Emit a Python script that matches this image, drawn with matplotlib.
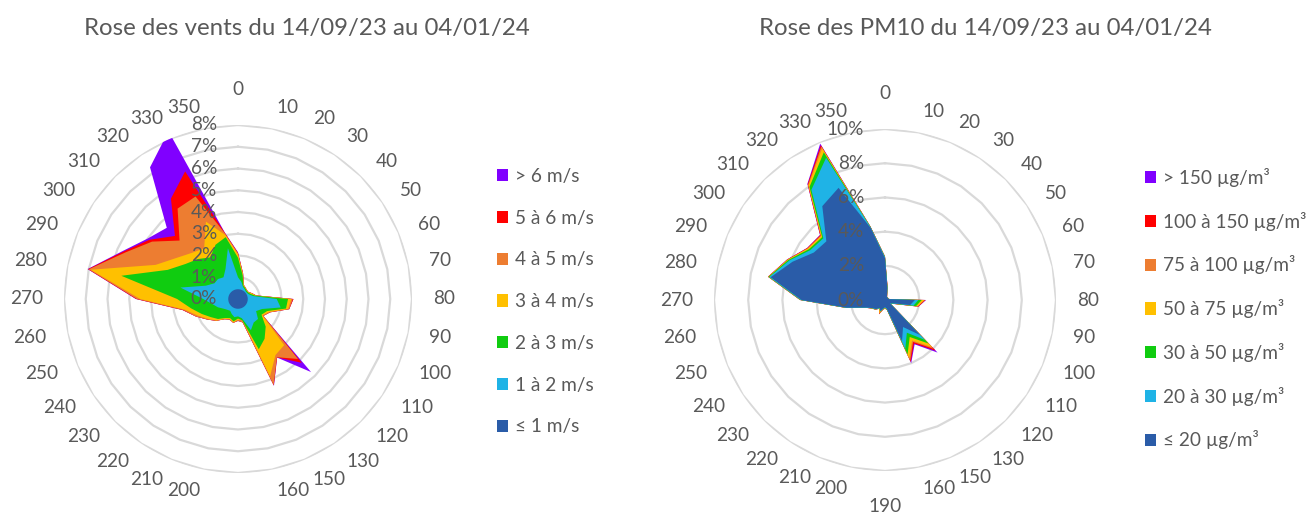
import numpy as np
import matplotlib
matplotlib.use("Agg")
import matplotlib.pyplot as plt
from matplotlib.patches import Patch

plt.rcParams["font.family"] = ["Lato", "DejaVu Sans"]
TXT = "#595959"
GRID = "#d9d9d9"

# wind / PM10 directions (only the sectors present in the data)
directions = [0, 10, 20, 30, 40, 50, 60, 70, 80, 90, 100, 110, 120, 130, 150, 160,
              190, 200, 210, 220, 230, 240, 250, 260, 270, 280, 290, 300, 310, 320, 330, 350]

# wind rose, cumulative % by speed class (innermost first)
wind_le1 = [0.45] * 32
wind_1_2 = [1.0, 0.8, 0.6, 0.55, 0.5, 0.5, 0.55, 0.7, 1.78, 2.0, 1.2, 1.0, 1.3, 1.3, 1.55, 0.9,
            0.8, 0.85, 0.75, 0.65, 0.7, 0.8, 1.0, 1.2, 1.6, 2.7, 1.6, 1.3, 1.3, 1.2, 1.5, 2.38]
wind_2_3 = [1.9, 1.1, 0.65, 0.6, 0.55, 0.55, 0.62, 0.8, 2.3, 2.25, 1.45, 1.3, 1.8, 2.2, 2.5, 1.0,
            0.9, 1.05, 0.95, 1.05, 1.3, 1.5, 1.8, 2.2, 2.8, 5.47, 3.5, 2.9, 2.6, 2.3, 2.7, 2.9]
wind_3_4 = [2.05, 1.15, 0.68, 0.62, 0.57, 0.57, 0.68, 0.83, 2.45, 2.35, 1.55, 1.35, 3.0, 3.1, 3.85, 0.98,
            0.95, 1.1, 1.0, 1.1, 1.4, 1.65, 2.0, 2.5, 4.5, 6.9, 4.1, 3.4, 3.0, 2.8, 3.85, 3.0]
wind_4_5 = [2.1, 1.2, 0.7, 0.63, 0.58, 0.58, 0.7, 0.85, 2.52, 2.4, 1.6, 1.4, 3.9, 3.22, 4.28, 1.1,
            1.0, 1.12, 1.02, 1.12, 1.42, 1.7, 2.1, 2.58, 4.65, 7.0, 5.6, 4.75, 3.8, 5.0, 5.1, 3.08]
wind_5_6 = [2.12, 1.2, 0.7, 0.63, 0.58, 0.58, 0.7, 0.85, 2.55, 2.4, 1.6, 1.4, 4.15, 3.23, 4.3, 1.1,
            1.0, 1.12, 1.02, 1.12, 1.42, 1.7, 2.1, 2.6, 4.68, 7.03, 5.7, 4.9, 4.1, 5.55, 6.35, 3.1]
wind_gt6 = [2.15, 1.2, 0.7, 0.63, 0.58, 0.58, 0.7, 0.85, 2.55, 2.4, 1.6, 1.4, 4.75, 3.24, 4.32, 1.1,
            1.0, 1.12, 1.02, 1.12, 1.42, 1.7, 2.1, 2.6, 4.7, 7.05, 5.75, 5.0, 4.63, 7.28, 8.35, 3.12]
wind_labels = ["> 6 m/s", "5 à 6 m/s", "4 à 5 m/s", "3 à 4 m/s", "2 à 3 m/s", "1 à 2 m/s", "≤ 1 m/s"]

# PM10 rose, cumulative % by concentration class (innermost first)
pm_le20 = [2.45, 0.7, 0.3, 0.2, 0.2, 0.2, 0.2, 0.25, 1.75, 1.5, 0.5, 0.35, 2.9, 1.9, 2.6, 0.5,
           0.42, 0.5, 0.7, 0.55, 0.75, 0.85, 1.15, 2.3, 4.88, 6.82, 5.85, 5.0, 4.85, 6.6, 7.1, 4.3]
pm_20_30 = [2.5, 0.72, 0.31, 0.2, 0.2, 0.2, 0.2, 0.26, 1.95, 1.7, 0.55, 0.37, 3.3, 2.3, 3.1, 0.55,
            0.44, 0.52, 0.72, 0.57, 0.77, 0.87, 1.17, 2.32, 4.92, 6.9, 6.05, 5.25, 5.1, 7.75, 9.0, 4.34]
pm_30_50 = [2.52, 0.74, 0.32, 0.21, 0.21, 0.21, 0.21, 0.26, 2.15, 1.85, 0.58, 0.38, 3.6, 2.6, 3.45, 0.57,
            0.46, 0.54, 0.74, 0.58, 0.78, 0.88, 1.18, 2.33, 4.94, 6.94, 6.12, 5.35, 5.2, 7.95, 9.35, 4.36]
pm_50_75 = [2.53, 0.75, 0.33, 0.21, 0.21, 0.21, 0.21, 0.27, 2.28, 1.93, 0.6, 0.39, 3.9, 2.85, 3.7, 0.58,
            0.48, 0.56, 0.85, 0.6, 0.79, 0.89, 1.19, 2.34, 4.95, 6.96, 6.16, 5.42, 5.28, 8.05, 9.6, 4.37]
pm_75_100 = [2.54, 0.76, 0.33, 0.22, 0.22, 0.22, 0.22, 0.27, 2.34, 1.97, 0.61, 0.4, 4.05, 2.95, 3.85, 0.59,
             0.49, 0.57, 0.88, 0.61, 0.8, 0.9, 1.2, 2.35, 4.96, 6.97, 6.18, 5.45, 5.33, 8.1, 9.72, 4.38]
pm_100_150 = [2.55, 0.77, 0.34, 0.22, 0.22, 0.22, 0.22, 0.28, 2.37, 1.99, 0.62, 0.4, 4.2, 3.05, 3.93, 0.6,
              0.5, 0.58, 0.9, 0.62, 0.8, 0.9, 1.2, 2.35, 4.97, 6.98, 6.19, 5.47, 5.36, 8.14, 9.8, 4.39]
pm_gt150 = [2.55, 0.78, 0.34, 0.22, 0.22, 0.22, 0.22, 0.28, 2.4, 2.0, 0.62, 0.4, 4.35, 3.12, 4.0, 0.6,
            0.5, 0.58, 0.9, 0.62, 0.8, 0.9, 1.2, 2.35, 4.97, 6.98, 6.2, 5.48, 5.38, 8.17, 9.9, 4.4]
pm_labels = ["> 150 µg/m³", "100 à 150 µg/m³", "75 à 100 µg/m³", "50 à 75 µg/m³",
             "30 à 50 µg/m³", "20 à 30 µg/m³", "≤ 20 µg/m³"]

colors = ["#2a5ca8", "#1fb3e6", "#10cc10", "#ffc000", "#ed7d31", "#ff0000", "#8000ff"]


def draw_rose(ax, layers, rmax, step, lab_r, skip=()):
    n = len(directions)
    theta = np.arange(n) * 2 * np.pi / n
    closed = np.append(theta, theta[0])
    ax.set_theta_zero_location("N")
    ax.set_theta_direction(-1)
    ax.set_ylim(0, rmax)
    ax.set_xticks([])
    ax.set_yticks([])
    ax.grid(False)
    ax.spines["polar"].set_visible(False)
    ax.patch.set_alpha(0)
    # excel style polygon gridlines
    for r in np.arange(step, rmax + 0.01, step):
        ax.plot(closed, [r] * (n + 1), color=GRID, lw=1.6, zorder=1)
    # biggest (cumulative) layer first
    for vals, col in reversed(list(zip(layers, colors))):
        ax.fill(closed, np.append(vals, vals[0]), color=col, lw=0, zorder=2)
    for r in np.arange(0, rmax + 0.01, step):
        ax.annotate(f"{r:g}%", xy=(0, r), xytext=(-15, 0), textcoords="offset points",
                    ha="right", va="center", color=TXT, fontsize=13.7, zorder=5,
                    annotation_clip=False)
    for th, d in zip(theta, directions):
        if d in skip:
            continue
        s, c = np.sin(th), np.cos(th)
        if abs(s) < 1e-9:
            ha, va = "center", ("bottom" if c > 0 else "top")
            r = lab_r * 1.03
        else:
            ha, va = ("left" if s > 0 else "right"), "center"
            r = lab_r
        ax.text(th, r, str(d), ha=ha, va=va, color=TXT, fontsize=13.7)


fig = plt.figure(figsize=(13.14, 5.17), dpi=100)
W, H = 1314, 517

# left: wind rose, centre (238, 299), 8% ring = 174 px
ax1 = fig.add_axes([(238 - 174) / W, (H - 299 - 174) / H, 348 / W, 348 / H], projection="polar")
draw_rose(ax1, [wind_le1, wind_1_2, wind_2_3, wind_3_4, wind_4_5, wind_5_6, wind_gt6],
          8, 1, 195 / 174 * 8, skip=(190,))

# right: PM10 rose, centre (885, 300), 10% ring = 171 px
ax2 = fig.add_axes([(885 - 171) / W, (H - 300 - 171) / H, 342 / W, 342 / H], projection="polar")
draw_rose(ax2, [pm_le20, pm_20_30, pm_30_50, pm_50_75, pm_75_100, pm_100_150, pm_gt150],
          10, 2, 192 / 171 * 10)

fig.text(307 / W, 1 - 28 / H, "Rose des vents du 14/09/23 au 04/01/24", ha="center", va="center",
         color=TXT, fontsize=17.3)
fig.text(985 / W, 1 - 28 / H, "Rose des PM10 du 14/09/23 au 04/01/24", ha="center", va="center",
         color=TXT, fontsize=17.3)

for x0, labels in [(497, wind_labels), (1145, pm_labels)]:
    handles = [Patch(facecolor=c, edgecolor="none") for c in colors[::-1]]
    fig.legend(handles, labels, loc="upper left", bbox_to_anchor=(x0 / W, 1 - 168 / H),
               frameon=False, fontsize=13.7, labelcolor=TXT, handlelength=0.6, handleheight=0.6,
               handletextpad=0.35, labelspacing=1.3, borderpad=0, borderaxespad=0)

fig.savefig("out.png", dpi=100)
